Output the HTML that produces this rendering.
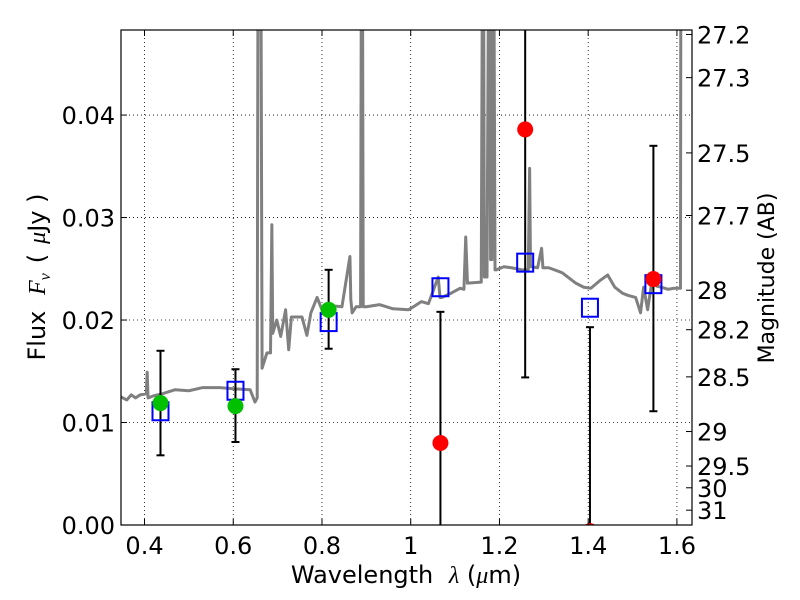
<!DOCTYPE html>
<html><head><meta charset="utf-8"><style>
html,body{margin:0;padding:0;background:#fff;}
svg{display:block;font-family:"DejaVu Sans","Liberation Sans",sans-serif;}
.m{font-family:"Liberation Serif","DejaVu Serif",serif;font-style:italic;}
</style></head><body>
<svg id="chart" width="800" height="600" viewBox="0 0 800 600"></svg>
<script>
const specLam=[0.347,0.36,0.37,0.38,0.39,0.404,0.406,0.408,0.42,0.44,0.469,0.5,0.53,0.57,0.6,0.638,0.649,0.654,0.656,0.662,0.665,0.676,0.684,0.687,0.689,0.698,0.707,0.718,0.725,0.731,0.755,0.766,0.775,0.789,0.8,0.82,0.845,0.863,0.865,0.868,0.877,0.887,0.889,0.891,0.893,0.9,0.93,0.96,0.995,1.01,1.024,1.04,1.062,1.066,1.07,1.09,1.111,1.12,1.124,1.128,1.159,1.162,1.164,1.166,1.172,1.176,1.178,1.18,1.183,1.185,1.187,1.19,1.193,1.21,1.227,1.25,1.265,1.268,1.27,1.272,1.286,1.295,1.298,1.311,1.33,1.342,1.36,1.372,1.39,1.406,1.425,1.444,1.46,1.478,1.49,1.507,1.518,1.525,1.534,1.543,1.555,1.565,1.58,1.594,1.608,1.609,1.611,1.612,1.635];
const specFlux=[0.0125,0.0122,0.0127,0.0124,0.0127,0.0128,0.0149,0.0124,0.0126,0.0128,0.0132,0.0131,0.0134,0.0134,0.0133,0.0132,0.012,0.0124,0.06,0.06,0.0153,0.0168,0.0168,0.0293,0.0187,0.02,0.0184,0.021,0.0171,0.0203,0.0203,0.0185,0.0207,0.0222,0.021,0.0214,0.0213,0.0262,0.022,0.0207,0.0213,0.0213,0.06,0.06,0.0213,0.0213,0.0215,0.0211,0.021,0.0214,0.0218,0.0216,0.0242,0.0222,0.0222,0.0226,0.0231,0.023,0.0281,0.0236,0.0237,0.06,0.06,0.0242,0.0242,0.06,0.06,0.0259,0.0259,0.06,0.06,0.0249,0.0249,0.0252,0.0251,0.0249,0.0249,0.0348,0.0252,0.0252,0.0251,0.027,0.0251,0.0251,0.0248,0.0246,0.024,0.0236,0.0232,0.0231,0.0238,0.0244,0.0232,0.0226,0.0224,0.0222,0.0207,0.0232,0.021,0.0236,0.0233,0.0232,0.0230,0.0231,0.0231,0.06,0.06,0.06,0.06];
const modelLam=[0.436,0.605,0.815,1.067,1.258,1.404,1.547];
const modelFlux=[0.0111,0.0131,0.0198,0.0232,0.0256,0.0212,0.0235];
const greenLam=[0.436,0.605,0.815];
const greenFlux=[0.0119,0.0116,0.021];
const greenLo=[0.0068,0.0081,0.0172];
const greenHi=[0.017,0.0152,0.0249];
const redLam=[1.067,1.258,1.404,1.547];
const redFlux=[0.008,0.0386,-0.0006,0.024];
const redLo=[-0.01,0.0144,-0.01,0.0111];
const redHi=[0.0208,0.08,0.0193,0.037];
const xTicks=[0.4,0.6,0.8,1.0,1.2,1.4,1.6];
const xTickLabels=["0.4","0.6","0.8","1","1.2","1.4","1.6"];
const yTicks=[0,0.01,0.02,0.03,0.04];
const yTickLabels=["0.00","0.01","0.02","0.03","0.04"];
const magTicks=[27.2,27.3,27.5,27.7,28,28.2,28.5,29,29.5,30,31];
const magLabels=["27.2","27.3","27.5","27.7","28","28.2","28.5","29","29.5","30","31"];

const L=121,R=692,T=30,B=525;
const xMin=0.347,xMax=1.634,yMin=0,yMax=0.0483;
const X=v=>L+(v-xMin)/(xMax-xMin)*(R-L);
const Y=v=>B-(v-yMin)/(yMax-yMin)*(B-T);
const NS="http://www.w3.org/2000/svg";
const svg=document.getElementById('chart');
function mk(tag,attrs,parent){const e=document.createElementNS(NS,tag);for(const k in attrs)e.setAttribute(k,attrs[k]);(parent||svg).appendChild(e);return e;}

const defs=mk('defs',{});const cp=mk('clipPath',{id:'clip'},defs);mk('rect',{x:L,y:T,width:R-L,height:B-T},cp);

const grid=mk('g',{});


xTicks.forEach(v=>{mk('line',{x1:X(v),x2:X(v),y1:T,y2:B,stroke:'#000','stroke-width':0.8,'stroke-dasharray':'1,3'},grid);});
yTicks.forEach(v=>{mk('line',{x1:L,x2:R,y1:Y(v),y2:Y(v),stroke:'#000','stroke-width':0.8,'stroke-dasharray':'1,3'},grid);});

const plot=mk('g',{'clip-path':'url(#clip)'});
const sp=mk('polyline',{points:specLam.map((l,i)=>X(l)+','+Y(specFlux[i])).join(' '),fill:'none',stroke:'#808080','stroke-width':3,'stroke-linejoin':'round'},plot);



function errbar(l,lo,hi,name){const g=mk('g',{},plot);


mk('line',{x1:X(l),x2:X(l),y1:Y(lo),y2:Y(hi),stroke:'#000','stroke-width':2},g);
mk('line',{x1:X(l)-4,x2:X(l)+4,y1:Y(lo),y2:Y(lo),stroke:'#000','stroke-width':2},g);
mk('line',{x1:X(l)-4,x2:X(l)+4,y1:Y(hi),y2:Y(hi),stroke:'#000','stroke-width':2},g);}
greenLam.forEach((l,i)=>errbar(l,greenLo[i],greenHi[i],'green-errorbar'));
redLam.forEach((l,i)=>errbar(l,redLo[i],redHi[i],'red-errorbar'));

modelLam.forEach((l,i)=>{const r=mk('rect',{x:X(l)-8,y:Y(modelFlux[i])-9,width:16,height:18,fill:'none',stroke:'#0000ff','stroke-width':2},plot);

});
greenLam.forEach((l,i)=>{const c=mk('circle',{cx:X(l),cy:Y(greenFlux[i]),r:8,fill:'#00c000'},plot);

});
redLam.forEach((l,i)=>{const c=mk('circle',{cx:X(l),cy:Y(redFlux[i]),r:8,fill:'#ff0000'},plot);

});

const fr=mk('rect',{x:L,y:T,width:R-L,height:B-T,fill:'none',stroke:'#000','stroke-width':1.2});



xTicks.forEach((v,i)=>{mk('line',{x1:X(v),x2:X(v),y1:B,y2:B-6,stroke:'#000'});mk('line',{x1:X(v),x2:X(v),y1:T,y2:T+6,stroke:'#000'});
const t=mk('text',{x:X(v),y:B+29,'text-anchor':'middle','font-size':24});t.textContent=xTickLabels[i];

});
yTicks.forEach((v,i)=>{mk('line',{x1:L,x2:L+6,y1:Y(v),y2:Y(v),stroke:'#000'});
const t=mk('text',{x:L-6,y:Y(v)+9,'text-anchor':'end','font-size':24});t.textContent=yTickLabels[i];

});
magTicks.forEach((m,i)=>{const f=Math.pow(10,(23.9-m)/2.5);const y=Y(f);
mk('line',{x1:R,x2:R-6,y1:y,y2:y,stroke:'#000'});
const t=mk('text',{x:R+5,y:y+9,'font-size':24});t.textContent=magLabels[i];

});

const xt=mk('text',{x:406,y:583,'text-anchor':'middle','font-size':24});
xt.innerHTML='Wavelength <tspan class="m" dx="8">λ</tspan> (<tspan class="m">μ</tspan>m)';


const yt=mk('text',{transform:'translate(45,277) rotate(-90)','text-anchor':'middle','font-size':24});
yt.innerHTML='Flux <tspan class="m" dx="8">F</tspan><tspan class="m" font-size="16" dy="5">ν</tspan><tspan dy="-5" dx="10">(</tspan><tspan class="m" dx="10">μ</tspan>Jy )';


const yr=mk('text',{transform:'translate(774,278) rotate(-90)','text-anchor':'middle','font-size':22});
yr.textContent='Magnitude (AB)';


</script>
</body></html>
